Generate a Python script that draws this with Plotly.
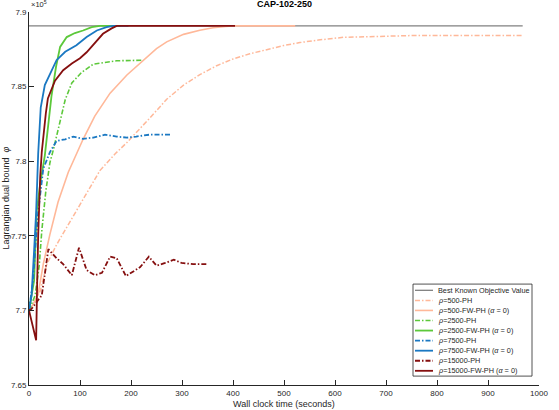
import plotly.graph_objects as go

# ---------------- data (y in units of 1e5) ----------------
best_x = [0, 968]
best_y = [7.8907, 7.8907]

p500_ph_x = [0, 10, 22, 35, 54, 84, 123, 139, 169, 192, 237, 270, 303, 335, 368, 400, 433, 466, 499, 531, 567, 616, 680, 750, 850, 968]
p500_ph_y = [7.700, 7.705, 7.713, 7.731, 7.744, 7.7617, 7.7838, 7.7937, 7.805, 7.8125, 7.829, 7.8415, 7.851, 7.858, 7.864, 7.8685, 7.872, 7.875, 7.8775, 7.8795, 7.8812, 7.883, 7.8838, 7.8842, 7.8843, 7.8843]

p500_fw_x = [0, 8, 18, 28, 41, 57, 77, 93, 106, 129, 159, 192, 224, 250, 270, 303, 335, 361, 385, 400, 450, 522]
p500_fw_y = [7.700, 7.704, 7.711, 7.731, 7.751, 7.7727, 7.7926, 7.805, 7.8147, 7.8302, 7.8456, 7.8578, 7.8677, 7.8755, 7.8800, 7.885, 7.8878, 7.8895, 7.8903, 7.8907, 7.8907, 7.8907]

p2500_ph_x = [0, 12, 20, 25, 33, 41, 48, 54, 61, 71, 84, 103, 126, 146, 172, 224]
p2500_ph_y = [7.700, 7.710, 7.730, 7.753, 7.780, 7.799, 7.808, 7.817, 7.828, 7.8412, 7.8525, 7.8595, 7.865, 7.866, 7.8673, 7.8677]

p2500_fw_x = [0, 10, 15, 22, 31, 44, 53, 61, 74, 90, 106, 123, 139, 180]
p2500_fw_y = [7.700, 7.720, 7.766, 7.785, 7.8038, 7.8434, 7.8633, 7.8766, 7.8832, 7.8859, 7.8876, 7.8898, 7.8907, 7.8907]

p7500_ph_x = [0, 8, 13, 18, 28, 41, 54, 71, 87, 106, 126, 149, 172, 192, 210, 237, 280]
p7500_ph_y = [7.700, 7.720, 7.745, 7.766, 7.795, 7.806, 7.8136, 7.8147, 7.8165, 7.8150, 7.8158, 7.8178, 7.8165, 7.8158, 7.8165, 7.8178, 7.8178]

p7500_fw_x = [0, 5, 10, 14, 18, 23, 31, 44, 54, 71, 93, 113, 133, 152, 165, 195]
p7500_fw_y = [7.700, 7.710, 7.740, 7.766, 7.805, 7.836, 7.851, 7.861, 7.8677, 7.8733, 7.8777, 7.8832, 7.8876, 7.8898, 7.8907, 7.8907]

p15000_ph_x = [0, 5, 18, 25, 38, 54, 67, 84, 98, 113, 129, 143, 159, 172, 190, 201, 218, 235, 250, 267, 284, 299, 322, 349]
p15000_ph_y = [7.700, 7.701, 7.707, 7.710, 7.741, 7.735, 7.731, 7.7236, 7.742, 7.727, 7.7236, 7.7252, 7.736, 7.735, 7.723, 7.7252, 7.729, 7.736, 7.730, 7.7318, 7.734, 7.7318, 7.731, 7.731]

p15000_fw_x = [0, 14, 16, 18, 22, 25, 33, 37, 51, 67, 84, 100, 113, 129, 145, 162, 172, 404]
p15000_fw_y = [7.700, 7.680, 7.718, 7.750, 7.790, 7.806, 7.832, 7.842, 7.854, 7.861, 7.8655, 7.869, 7.873, 7.879, 7.8854, 7.889, 7.8907, 7.8907]

y_tickvals = [7.65, 7.7, 7.75, 7.8, 7.85, 7.9]
y_ticktext = ["7.65", "7.7", "7.75", "7.8", "7.85", "7.9"]
x_tickvals = [0, 100, 200, 300, 400, 500, 600, 700, 800, 900, 1000]

names = ["Best Known Objective Value",
         "<i>ρ</i>=500-PH", "<i>ρ</i>=500-FW-PH (<i>α</i> = 0)",
         "<i>ρ</i>=2500-PH", "<i>ρ</i>=2500-FW-PH (<i>α</i> = 0)",
         "<i>ρ</i>=7500-PH", "<i>ρ</i>=7500-FW-PH (<i>α</i> = 0)",
         "<i>ρ</i>=15000-PH", "<i>ρ</i>=15000-FW-PH (<i>α</i> = 0)"]

# ---------------- styles ----------------
GRAY = "#808080"
SALMON = "#FFB899"
GREEN = "#5CC83A"
BLUE = "#1A78C2"
DRED = "#850F0F"
DD = "5px,2px,1.5px,2px"

series = [
    (best_x, best_y, GRAY, "solid", 1.3),
    (p500_ph_x, p500_ph_y, SALMON, DD, 1.5),
    (p500_fw_x, p500_fw_y, SALMON, "solid", 1.6),
    (p2500_ph_x, p2500_ph_y, GREEN, DD, 1.6),
    (p2500_fw_x, p2500_fw_y, GREEN, "solid", 1.8),
    (p7500_ph_x, p7500_ph_y, BLUE, DD, 1.8),
    (p7500_fw_x, p7500_fw_y, BLUE, "solid", 1.8),
    (p15000_ph_x, p15000_ph_y, DRED, DD, 1.8),
    (p15000_fw_x, p15000_fw_y, DRED, "solid", 1.8),
]

fig = go.Figure()
for (xs, ys, c, d, w), nm in zip(series, names):
    fig.add_trace(go.Scatter(x=xs, y=ys, mode="lines", name=nm,
                             line=dict(color=c, dash=d, width=w),
                             showlegend=False))

W, H = 559, 410
ML, MR, MT, MB = 29, 20, 8, 25
PW, PH = W - ML - MR, H - MT - MB


def px(xp):
    return (xp - ML) / PW


def py(yp):
    return (H - MB - yp) / PH


FONT = "Liberation Sans, Arial, sans-serif"
AX = "#262626"

shapes = []
annotations = []

# manual legend
shapes.append(dict(type="rect", xref="paper", yref="paper", x0=px(413), x1=px(532), y0=py(376), y1=py(283),
                   line=dict(color=AX, width=0.8), fillcolor="white", layer="above"))
for i, ((xs, ys, c, d, w), nm) in enumerate(zip(series, names)):
    yc = 289.3 + i * 10.17
    shapes.append(dict(type="line", xref="paper", yref="paper", x0=px(415), x1=px(433), y0=py(yc), y1=py(yc),
                       line=dict(color=c, dash=d, width=w), layer="above"))
    annotations.append(dict(text=nm, xref="paper", yref="paper", x=px(436), y=py(yc), xanchor="left",
                            yanchor="middle", showarrow=False, font=dict(family=FONT, size=7.3, color=AX)))

# titles
annotations.append(dict(text="<b>CAP-102-250</b>", xref="paper", yref="paper", x=0.5, y=py(7), xanchor="center",
                        yanchor="bottom", showarrow=False, font=dict(family=FONT, size=9, color="black")))
annotations.append(dict(text="×10<sup>5</sup>", xref="paper", yref="paper", x=px(29), y=py(7), xanchor="left",
                        yanchor="bottom", showarrow=False, font=dict(family=FONT, size=7.5, color=AX)))
annotations.append(dict(text="Wall clock time (seconds)", xref="paper", yref="paper", x=0.5, y=py(404),
                        xanchor="center", yanchor="middle", showarrow=False, font=dict(family=FONT, size=9, color=AX)))
annotations.append(dict(text="Lagrangian dual bound  <i>φ</i>", xref="paper", yref="paper", x=px(5), y=0.5,
                        xanchor="center", yanchor="middle", textangle=-90, showarrow=False,
                        font=dict(family=FONT, size=9, color=AX)))

fig.update_layout(
    width=W, height=H,
    margin=dict(l=ML, r=MR, t=MT, b=MB, pad=0),
    paper_bgcolor="white", plot_bgcolor="white",
    font=dict(family=FONT, size=8, color=AX),
    shapes=shapes, annotations=annotations,
    showlegend=False,
    xaxis=dict(range=[0, 1000], tickvals=x_tickvals, ticks="inside", ticklen=5, tickcolor=AX, tickwidth=0.8,
               showline=True, linecolor=AX, linewidth=0.8, showgrid=False, zeroline=False,
               tickfont=dict(family=FONT, size=8, color=AX)),
    yaxis=dict(range=[7.65, 7.9], tickvals=y_tickvals, ticktext=y_ticktext, ticks="inside", ticklen=5,
               tickcolor=AX, tickwidth=0.8, showline=True, linecolor=AX, linewidth=0.8, showgrid=False,
               zeroline=False, tickfont=dict(family=FONT, size=8, color=AX)),
)

fig.write_html("out.html")
